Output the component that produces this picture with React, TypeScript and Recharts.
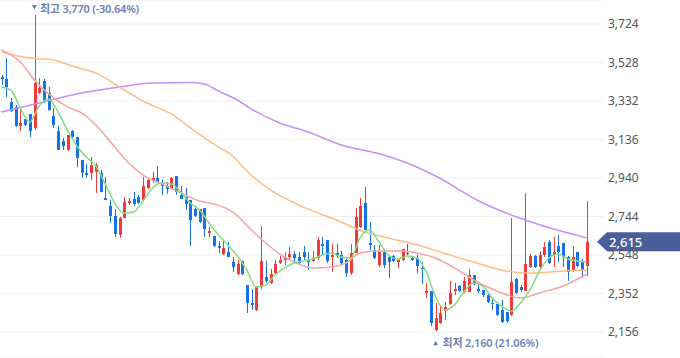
import React from 'react';
import {
  ComposedChart, Bar, Line, XAxis, YAxis, CartesianGrid, ReferenceDot, ReferenceLine
} from 'recharts';

// daily candles, oldest first
const OPEN = [
  3454, 3444, 3327, 3301, 3205, 3240, 3266, 3195, 3373, 3434,
  3373, 3256, 3179, 3128, 3083, 3179, 3149, 3032, 2966, 2966,
  2971, 2966, 2838, 2798, 2747, 2650, 2736, 2813, 2833, 2843,
  2828, 2889, 2930, 2940, 2910, 2899, 2889, 2950, 2854, 2843,
  2828, 2782, 2782, 2787, 2660, 2645, 2594, 2553, 2563, 2512,
  2451, 2518, 2395, 2304, 2268, 2385, 2436, 2406, 2456, 2507,
  2523, 2538, 2553, 2538, 2563, 2518, 2518, 2533, 2604, 2624,
  2538, 2558, 2548, 2523, 2456, 2558, 2691, 2813, 2609, 2573,
  2497, 2563, 2538, 2543, 2512, 2523, 2558, 2533, 2533, 2482,
  2355, 2365, 2166, 2202, 2263, 2299, 2365, 2390, 2360, 2360,
  2446, 2375, 2370, 2344, 2304, 2299, 2268, 2258, 2243, 2426,
  2385, 2365, 2487, 2543, 2487, 2548, 2614, 2548, 2594, 2609,
  2538, 2467, 2563, 2518, 2492,
];
const HIGH = [
  3464, 3551, 3347, 3312, 3296, 3240, 3266, 3770, 3449, 3444,
  3403, 3296, 3205, 3144, 3159, 3184, 3149, 3032, 3011, 3047,
  3016, 2981, 2945, 2828, 2782, 2742, 2843, 2838, 2869, 2854,
  2945, 2935, 2971, 3001, 2930, 2920, 2945, 2950, 2899, 2889,
  2828, 2798, 2782, 2787, 2691, 2645, 2619, 2624, 2614, 2538,
  2523, 2518, 2395, 2375, 2390, 2696, 2518, 2477, 2523, 2543,
  2563, 2589, 2568, 2563, 2594, 2563, 2568, 2640, 2640, 2624,
  2604, 2604, 2568, 2528, 2604, 2787, 2838, 2894, 2716, 2599,
  2599, 2573, 2548, 2548, 2533, 2579, 2604, 2543, 2548, 2512,
  2406, 2365, 2304, 2294, 2309, 2416, 2406, 2395, 2436, 2477,
  2446, 2400, 2370, 2355, 2329, 2299, 2319, 2258, 2736, 2431,
  2395, 2864, 2553, 2548, 2568, 2614, 2624, 2640, 2650, 2609,
  2543, 2594, 2563, 2528, 2823,
];
const LOW = [
  3414, 3352, 3276, 3200, 3179, 3205, 3149, 3184, 3368, 3322,
  3281, 3195, 3083, 3083, 3078, 3144, 2996, 2940, 2940, 2930,
  2864, 2869, 2828, 2711, 2640, 2635, 2736, 2803, 2798, 2808,
  2828, 2884, 2915, 2915, 2854, 2859, 2884, 2854, 2833, 2777,
  2594, 2742, 2711, 2640, 2640, 2589, 2558, 2548, 2538, 2462,
  2446, 2446, 2253, 2268, 2263, 2375, 2406, 2400, 2451, 2502,
  2497, 2528, 2512, 2502, 2523, 2472, 2512, 2523, 2548, 2507,
  2462, 2533, 2497, 2436, 2446, 2558, 2686, 2675, 2573, 2528,
  2487, 2482, 2431, 2512, 2482, 2518, 2548, 2518, 2456, 2400,
  2329, 2187, 2160, 2197, 2217, 2294, 2344, 2360, 2355, 2360,
  2395, 2355, 2334, 2304, 2268, 2238, 2202, 2202, 2238, 2350,
  2360, 2365, 2482, 2482, 2482, 2538, 2502, 2487, 2512, 2487,
  2416, 2462, 2487, 2431, 2441,
];
const CLOSE = [
  3444, 3403, 3281, 3205, 3220, 3210, 3179, 3424, 3398, 3327,
  3286, 3210, 3083, 3103, 3159, 3149, 3042, 2966, 2955, 3006,
  3006, 2869, 2828, 2747, 2655, 2736, 2818, 2823, 2808, 2813,
  2899, 2930, 2940, 2920, 2899, 2884, 2940, 2869, 2833, 2808,
  2726, 2747, 2716, 2680, 2670, 2594, 2584, 2584, 2538, 2487,
  2502, 2451, 2304, 2294, 2390, 2518, 2416, 2451, 2502, 2523,
  2538, 2553, 2533, 2507, 2538, 2512, 2533, 2624, 2594, 2518,
  2548, 2543, 2507, 2456, 2558, 2742, 2798, 2675, 2599, 2533,
  2563, 2497, 2512, 2518, 2523, 2579, 2553, 2523, 2492, 2477,
  2365, 2202, 2227, 2253, 2283, 2355, 2375, 2365, 2416, 2446,
  2400, 2365, 2344, 2309, 2299, 2243, 2207, 2212, 2411, 2355,
  2370, 2502, 2543, 2487, 2548, 2589, 2507, 2563, 2563, 2538,
  2462, 2538, 2492, 2472, 2615,
];

// moving averages at these candle positions
const MA5_IDX = [
  0, 2, 4, 6, 8, 10, 12, 14, 16, 18, 20, 22, 24, 26, 28, 30, 32, 34, 36, 38,
  40, 42, 44, 46, 48, 50, 52, 54, 56, 58, 60, 62, 64, 66, 68, 70, 72, 74, 76, 78,
  80, 82, 84, 86, 88, 90, 92, 94, 96, 98, 100, 102, 104, 106, 108, 110, 112, 114, 116, 118,
  120, 122, 124,
];
const MA5 = [
  3403, 3388, 3296, 3225, 3307, 3342, 3276, 3184, 3103, 3047,
  3001, 2910, 2813, 2762, 2767, 2823, 2889, 2915, 2910, 2869,
  2813, 2777, 2711, 2650, 2599, 2543, 2472, 2385, 2395, 2446,
  2482, 2507, 2518, 2528, 2548, 2558, 2538, 2533, 2635, 2675,
  2614, 2548, 2528, 2543, 2533, 2462, 2334, 2268, 2294, 2360,
  2406, 2390, 2329, 2288, 2263, 2304, 2370, 2467, 2533, 2553,
  2528, 2518, 2512,
];
const MA20_IDX = [
  0, 4, 7, 10, 14, 17, 21, 24, 27, 30, 34, 38, 42, 45, 49, 53, 56, 59,
  62, 66, 70, 73, 76, 80, 85, 89, 92, 96, 99, 103, 106, 110, 114, 119, 124,
];
const MA20 = [
  3592, 3531, 3439, 3368, 3302, 3271, 3184, 3098, 3016, 2955, 2910, 2864, 2823, 2808, 2767, 2675, 2609, 2553,
  2512, 2482, 2487, 2507, 2558, 2568, 2568, 2553, 2533, 2482, 2436, 2385, 2355, 2329, 2355, 2390, 2450,
];
const MA60_IDX = [0, 6, 11, 15, 21, 25, 30, 36, 41, 45, 49, 52, 57, 64, 71, 77, 82, 89, 93, 100, 107, 112, 119, 124];
const MA60 = [
  3582, 3551, 3541, 3510, 3464, 3403, 3332, 3266, 3179, 3113, 3052, 2976,
  2879, 2792, 2726, 2665, 2635, 2594, 2563, 2512, 2467, 2456, 2467, 2472,
];
const MA120_IDX = [0, 8, 16, 25, 32, 40, 43, 46, 50, 53, 59, 65, 72, 81, 87, 92, 102, 111, 117, 124];
const MA120 = [
  3276, 3322, 3368, 3403, 3424, 3426, 3419, 3383, 3337, 3291,
  3220, 3174, 3108, 3057, 3006, 2950, 2813, 2726, 2680, 2635,
];

const Y_TICKS = [2156, 2352, 2548, 2744, 2940, 3136, 3332, 3528, 3724];
const HIGH_IDX = 7;
const HIGH_PRICE = 3770;
const HIGH_TEXT = '최고 3,770 (-30.64%)';
const LOW_IDX = 92;
const LOW_PRICE = 2160;
const LOW_TEXT = '최저 2,160 (21.06%)';
const LAST_PRICE = 2615;

const UP = '#ef3b3b';
const DOWN = '#1673e6';
const MARK = '#6f80b6';
const FONT = "'Noto Sans', 'Noto Sans CJK KR', sans-serif";

const rows = OPEN.map((o, i) => ({
  i,
  open: o,
  high: HIGH[i],
  low: LOW[i],
  close: CLOSE[i],
  range: [LOW[i], HIGH[i]],
  ma5: null as number | null,
  ma20: null as number | null,
  ma60: null as number | null,
  ma120: null as number | null,
}));
MA5_IDX.forEach((k, j) => { rows[k].ma5 = MA5[j]; });
MA20_IDX.forEach((k, j) => { rows[k].ma20 = MA20[j]; });
MA60_IDX.forEach((k, j) => { rows[k].ma60 = MA60[j]; });
MA120_IDX.forEach((k, j) => { rows[k].ma120 = MA120[j]; });

const Candle = (props: any) => {
  const { x, y, width, height, payload } = props;
  if (!payload) return null;
  const { open, close, high, low } = payload;
  const top = Math.min(y, y + height);
  const h = Math.abs(height);
  const k = h / (high - low);
  const cx = Math.round(x + width / 2) + 0.5;
  const yOpen = top + (high - open) * k;
  const yClose = top + (high - close) * k;
  const color = close >= open ? UP : DOWN;
  const bodyTop = Math.min(yOpen, yClose);
  const bodyH = Math.max(1, Math.abs(yOpen - yClose));
  return (
    <g>
      <line x1={cx} x2={cx} y1={top} y2={top + h} stroke={color} strokeWidth={1} />
      <rect x={cx - 1.5} y={bodyTop} width={3} height={bodyH} fill={color} />
    </g>
  );
};

const HighMark = (props: any) => {
  const { cx, cy } = props;
  return (
    <g>
      <path d={`M${cx - 2.5},${cy - 10} h5 l-2.5,4.5 Z`} fill={MARK} />
      <text x={cx + 5.5} y={cy - 2} fill={MARK} fontSize={11} fontWeight={600} fontFamily={FONT} letterSpacing={-0.2}>
        {HIGH_TEXT}
      </text>
    </g>
  );
};

const LowMark = (props: any) => {
  const { cx, cy } = props;
  return (
    <g>
      <path d={`M${cx - 2.5},${cy + 14} h5 l-2.5,-4.5 Z`} fill={MARK} />
      <text x={cx + 7} y={cy + 16} fill={MARK} fontSize={11} fontWeight={600} fontFamily={FONT} letterSpacing={-0.2}>
        {LOW_TEXT}
      </text>
    </g>
  );
};

const PriceTag = (props: any) => {
  const { viewBox } = props;
  if (!viewBox) return null;
  const x0 = viewBox.x + viewBox.width - 6;
  const cy = viewBox.y;
  return (
    <g>
      <path d={`M${x0},${cy} L${x0 + 10},${cy - 9.5} H${x0 + 90} V${cy + 9.5} H${x0 + 10} Z`} fill="#4b5e9c" />
      <text x={x0 + 12} y={cy} dy="0.36em" fill="#ffffff" fontSize={13} fontWeight={500} fontFamily={FONT}>
        {LAST_PRICE.toLocaleString('en-US')}
      </text>
    </g>
  );
};

export default function App() {
  return (
    <div style={{ position: 'absolute', left: -1, top: 0 }}>
      <ComposedChart width={681} height={358} data={rows} margin={{ top: 0, right: 0, bottom: 0, left: 0 }}>
        <CartesianGrid vertical={false} stroke="#efefef" />
        <XAxis dataKey="i" type="category" hide padding={{ left: 0, right: 14 }} />
        <YAxis
          orientation="right"
          width={77}
          domain={[2023.7, 3846.2]}
          allowDataOverflow
          ticks={Y_TICKS}
          interval={0}
          axisLine={false}
          tickLine={false}
          tickSize={0}
          tickMargin={5}
          tickFormatter={(v: number) => v.toLocaleString('en-US')}
          tick={{ fontSize: 12, fill: '#555555', fontFamily: FONT }}
        />
        <Line dataKey="ma120" type="monotone" stroke="#c590f7" strokeWidth={1.5} dot={false} activeDot={false} connectNulls isAnimationActive={false} />
        <Line dataKey="ma60" type="monotone" stroke="#ffbd86" strokeWidth={1.5} dot={false} activeDot={false} connectNulls isAnimationActive={false} />
        <Line dataKey="ma20" type="monotone" stroke="#f7a3a3" strokeWidth={1.5} dot={false} activeDot={false} connectNulls isAnimationActive={false} />
        <Line dataKey="ma5" type="monotone" stroke="#86dc82" strokeWidth={1.5} dot={false} activeDot={false} connectNulls isAnimationActive={false} />
        <Bar dataKey="range" barSize={3} shape={<Candle />} isAnimationActive={false} />
        <ReferenceDot x={HIGH_IDX} y={HIGH_PRICE} shape={<HighMark />} />
        <ReferenceDot x={LOW_IDX} y={LOW_PRICE} shape={<LowMark />} />
        <ReferenceLine y={LAST_PRICE} stroke="none" label={<PriceTag />} />
      </ComposedChart>
    </div>
  );
}
